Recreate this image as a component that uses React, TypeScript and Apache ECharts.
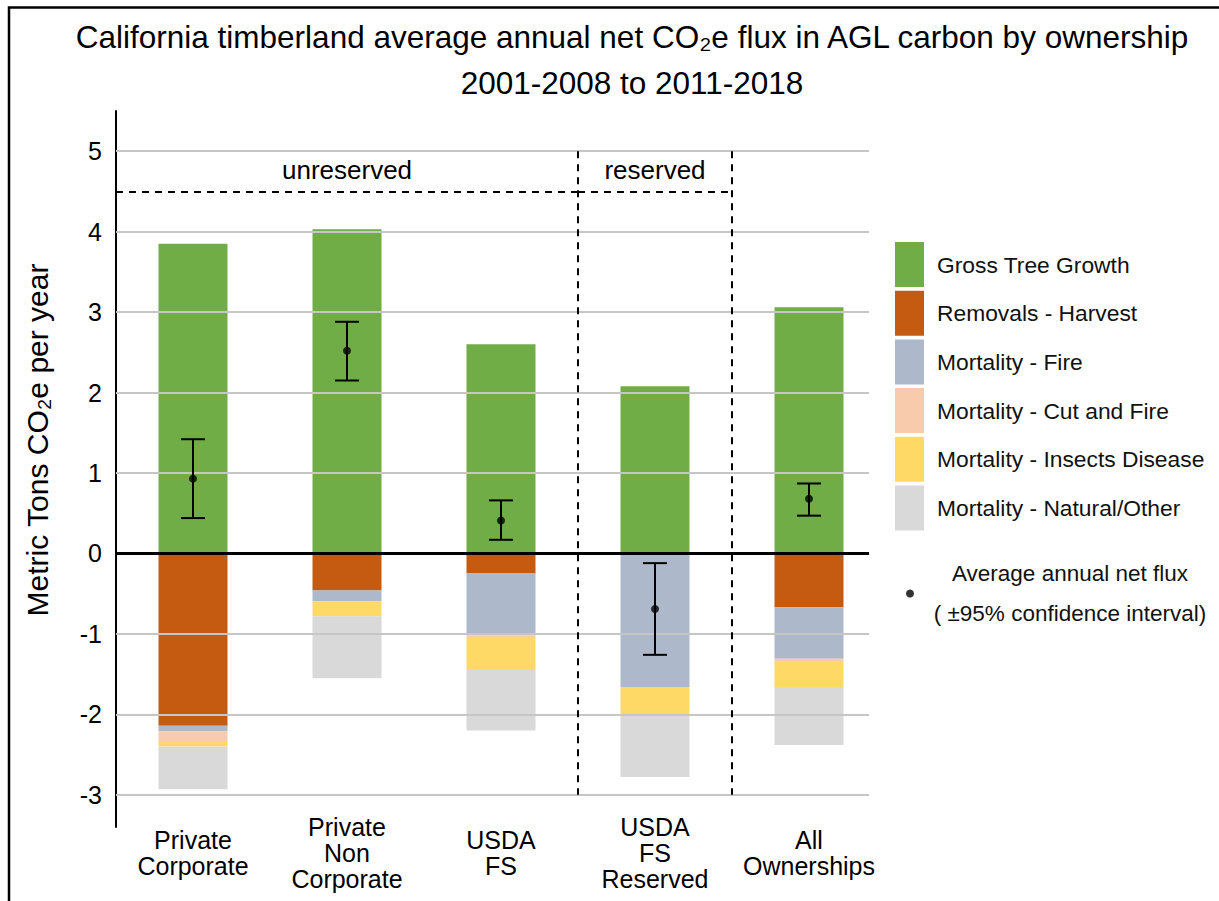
import React, { useEffect, useRef } from "react";
import * as echarts from "echarts";

const categories = ["Private\nCorporate", "Private\nNon\nCorporate", "USDA\nFS", "USDA\nFS\nReserved", "All\nOwnerships"];
const seriesNames = [
  "Gross Tree Growth",
  "Removals - Harvest",
  "Mortality - Fire",
  "Mortality - Cut and Fire",
  "Mortality - Insects Disease",
  "Mortality - Natural/Other",
];
const grossGrowth = [3.85, 4.03, 2.6, 2.08, 3.06];
const harvest = [-2.14, -0.46, -0.25, 0, -0.67];
const fire = [-0.07, -0.13, -0.77, -1.66, -0.64];
const cutFire = [-0.12, -0.01, -0.03, 0, -0.04];
const insects = [-0.07, -0.18, -0.4, -0.34, -0.31];
const natural = [-0.53, -0.77, -0.75, -0.78, -0.72];
const netFlux = [0.93, 2.52, 0.41, -0.69, 0.68];
const ciLow = [0.44, 2.15, 0.17, -1.26, 0.47];
const ciHigh = [1.42, 2.88, 0.66, -0.12, 0.87];
const yTicks = [-3, -2, -1, 1, 2, 3, 4, 5];
const fluxName = "Average annual net flux";

const colors = ["#70ad47", "#c55a11", "#adb9ca", "#f8cbad", "#ffd966", "#d9d9d9"];
const FONT = "'Liberation Sans', Arial, sans-serif";

export default function App() {
  const ref = useRef<HTMLDivElement>(null);
  useEffect(() => {
    if (!ref.current) return;
    const chart = echarts.init(ref.current, null, { renderer: "svg" });
    const values = [grossGrowth, harvest, fire, cutFire, insects, natural];
    const barSeries = values.map((v, i) => ({
      name: seriesNames[i],
      type: "bar",
      stack: "total",
      barWidth: 69,
      z: 3,
      itemStyle: { color: colors[i] },
      data: v,
    }));
    const dashStyle = { color: "#000", width: 2, type: [7, 6] as any };
    chart.setOption({
      animation: false,
      textStyle: { fontFamily: FONT },
      title: {
        left: 632,
        top: 14,
        padding: 0,
        textAlign: "center",
        text: "California timberland average annual net CO₂e flux in AGL carbon by ownership\n2001-2008 to 2011-2018",
        textStyle: { fontSize: 31.5, lineHeight: 46, color: "#000", fontWeight: "normal", fontFamily: FONT },
      },
      graphic: [
        {
          type: "polyline",
          shape: { points: [[9, 901], [9, 7.5], [1219, 7.5]] },
          style: { stroke: "#000", lineWidth: 2.5, fill: null },
          z: 100,
        },
        {
          type: "text",
          x: 37,
          y: 440,
          rotation: Math.PI / 2,
          style: {
            text: "Metric Tons CO₂e per year",
            align: "center",
            verticalAlign: "middle",
            fontSize: 30,
            fill: "#000",
            fontFamily: FONT,
          },
        },
      ],
      legend: [
        {
          orient: "vertical",
          left: 895,
          top: 242,
          padding: 0,
          itemWidth: 29,
          itemHeight: 45,
          itemGap: 3.7,
          icon: "rect",
          data: seriesNames,
          formatter: (n: string) => "{s| }{t|" + n + "}",
          textStyle: {
            rich: {
              s: { width: 8, fontSize: 20 },
              t: { fontSize: 22.8, color: "#111", fontFamily: FONT },
            },
          },
        },
        {
          orient: "vertical",
          left: 906,
          top: 562,
          padding: 0,
          itemWidth: 8,
          itemHeight: 8,
          icon: "circle",
          data: [fluxName],
          formatter: () => "{t|Average annual net flux}\n{t|( ±95% confidence interval)}",
          textStyle: {
            rich: {
              t: { width: 302, align: "center", fontSize: 22.5, lineHeight: 40, color: "#111", fontFamily: FONT },
            },
          },
        },
      ],
      grid: { left: 116, top: 111, width: 770, height: 716 },
      xAxis: [
        {
          type: "category",
          data: categories,
          axisLine: { show: false },
          axisTick: { show: false },
          axisLabel: { fontSize: 25, lineHeight: 26, color: "#000", verticalAlign: "middle", margin: 26, interval: 0 },
        },
        { type: "value", min: -0.5, max: 4.5, show: false },
      ],
      yAxis: {
        type: "value",
        min: -3.4,
        max: 5.5,
        interval: 0.1,
        axisLine: { show: true, onZero: false, lineStyle: { color: "#000", width: 2 } },
        axisTick: { show: false },
        splitLine: { show: false },
        axisLabel: {
          fontSize: 25,
          color: "#000",
          margin: 14,
          formatter: (v: number) => (Math.abs(v - Math.round(v)) < 1e-6 ? String(Math.round(v)) : ""),
        },
      },
      series: [
        {
          type: "line",
          xAxisIndex: 1,
          z: 1,
          data: [],
          silent: true,
          markLine: {
            silent: true,
            symbol: "none",
            label: { show: false },
            lineStyle: { color: "#c6c6c6", width: 2, type: "solid" },
            data: yTicks.map((v) => [{ coord: [-0.5, v] }, { coord: [4.39, v] }]),
          },
        },
        {
          type: "line",
          xAxisIndex: 1,
          z: 2,
          data: [],
          silent: true,
          markLine: {
            silent: true,
            symbol: "none",
            label: { show: false },
            data: [
              [{ coord: [-0.5, 0], lineStyle: { color: "#000", width: 3, type: "solid" } }, { coord: [4.39, 0] }],
              [{ coord: [2.5, 5], lineStyle: dashStyle }, { coord: [2.5, -3] }],
              [{ coord: [3.5, 5], lineStyle: dashStyle }, { coord: [3.5, -3] }],
              [
                { coord: [-0.5, 4.5], lineStyle: dashStyle, label: { show: true, position: "insideMiddleTop", formatter: "unreserved", fontSize: 26, color: "#000", distance: 8 } },
                { coord: [2.5, 4.5] },
              ],
              [
                { coord: [2.5, 4.5], lineStyle: dashStyle, label: { show: true, position: "insideMiddleTop", formatter: "reserved", fontSize: 26, color: "#000", distance: 8 } },
                { coord: [3.5, 4.5] },
              ],
            ],
          },
        },
        ...barSeries,
        {
          type: "custom",
          z: 9,
          silent: true,
          encode: { x: 0, y: [1, 2] },
          data: categories.map((_, i) => [i, ciLow[i], ciHigh[i]]),
          renderItem: (params: any, api: any) => {
            const x = api.value(0);
            const p1 = api.coord([x, api.value(2)]);
            const p2 = api.coord([x, api.value(1)]);
            const hw = 12;
            const st = { stroke: "#000", lineWidth: 2 };
            return {
              type: "group",
              children: [
                { type: "line", shape: { x1: p1[0], y1: p1[1], x2: p2[0], y2: p2[1] }, style: st },
                { type: "line", shape: { x1: p1[0] - hw, y1: p1[1], x2: p1[0] + hw, y2: p1[1] }, style: st },
                { type: "line", shape: { x1: p2[0] - hw, y1: p2[1], x2: p2[0] + hw, y2: p2[1] }, style: st },
              ],
            };
          },
        },
        {
          name: fluxName,
          type: "scatter",
          z: 10,
          symbol: "circle",
          symbolSize: 8,
          itemStyle: { color: "#000" },
          data: netFlux,
        },
      ],
    });
    return () => chart.dispose();
  }, []);
  return <div ref={ref} style={{ position: "absolute", left: 0, top: 0, width: 1219, height: 901, background: "#fff" }} />;
}
